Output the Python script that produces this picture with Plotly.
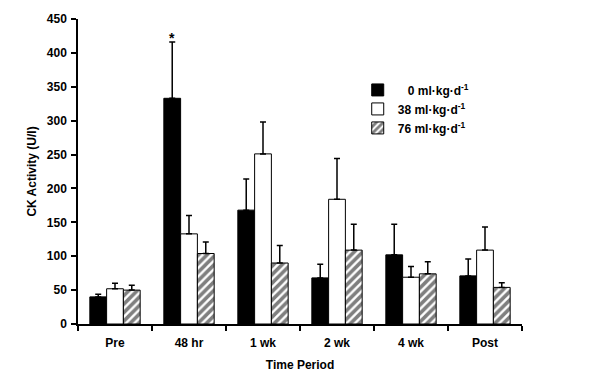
import plotly.graph_objects as go

categories = ["Pre", "48 hr", "1 wk", "2 wk", "4 wk", "Post"]
series_names = ["\u00a0\u00a0\u00a00 ml\u00b7kg\u00b7d<sup>-1</sup>",
                "38 ml\u00b7kg\u00b7d<sup>-1</sup>",
                "76 ml\u00b7kg\u00b7d<sup>-1</sup>"]
vals_0 = [40, 333, 168, 68, 102, 71]
err_0 = [4, 83, 46, 20, 45, 25]
vals_38 = [52, 133, 251, 184, 69, 109]
err_38 = [8, 27, 47, 60, 16, 34]
vals_76 = [50, 104, 90, 109, 74, 54]
err_76 = [7, 17, 26, 38, 18, 7]
y_ticks = [0, 50, 100, 150, 200, 250, 300, 350, 400, 450]

FONT = "Liberation Sans, Arial, sans-serif"

fig = go.Figure()

def add(name, vals, errs, fill, pattern=None):
    marker = dict(color=fill, line=dict(color="black", width=1))
    if pattern:
        marker["pattern"] = pattern
    fig.add_trace(go.Bar(
        x=categories, y=vals, name=name, marker=marker,
        error_y=dict(type="data", symmetric=False, array=errs,
                     arrayminus=[0] * len(errs), color="black",
                     thickness=1.5, width=3),
    ))

add(series_names[0], vals_0, err_0, "black")
add(series_names[1], vals_38, err_38, "white")
add(series_names[2], vals_76, err_76, "white",
    dict(shape="/", fgcolor="black", bgcolor="white", size=6, solidity=0.6))

fig.add_annotation(x="48 hr", y=vals_0[1] + err_0[1], text="<b>*</b>",
                   xshift=-16.7, yshift=-6, showarrow=False, yanchor="bottom",
                   font=dict(family=FONT, size=14, color="black"))

fig.update_layout(
    width=590, height=388,
    margin=dict(l=78, r=68, t=19, b=64),
    paper_bgcolor="white", plot_bgcolor="white",
    barmode="group", bargap=0.32, bargroupgap=0,
    font=dict(family=FONT, color="black", size=12),
    showlegend=True,
    legend=dict(x=0.63, y=0.815, xanchor="left", yanchor="top",
                font=dict(family=FONT, size=12, weight="bold"),
                bgcolor="rgba(0,0,0,0)", tracegroupgap=0),
    xaxis=dict(type="category", showline=True, linecolor="black", linewidth=1.5,
               ticks="outside", tickson="boundaries", ticklen=5, tickwidth=1.5,
               tickcolor="black", showgrid=False, automargin=False,
               ticklabelstandoff=7,
               tickfont=dict(family=FONT, size=12, weight="bold"),
               title=dict(text="Time Period", standoff=11,
                          font=dict(family=FONT, size=12, weight="bold"))),
    yaxis=dict(range=[0, 450], tickvals=y_ticks, showline=True, linecolor="black",
               linewidth=1.5, ticks="outside", ticklen=5, tickwidth=1.5,
               tickcolor="black", showgrid=False, zeroline=False, automargin=False,
               ticklabelstandoff=2,
               tickfont=dict(family=FONT, size=12, weight="bold"),
               title=dict(text="CK Activity (U/l)", standoff=8,
                          font=dict(family=FONT, size=12, weight="bold"))),
)

fig.write_html("out.html", config={"displayModeBar": False},
               post_script="document.body.style.margin='0';")
